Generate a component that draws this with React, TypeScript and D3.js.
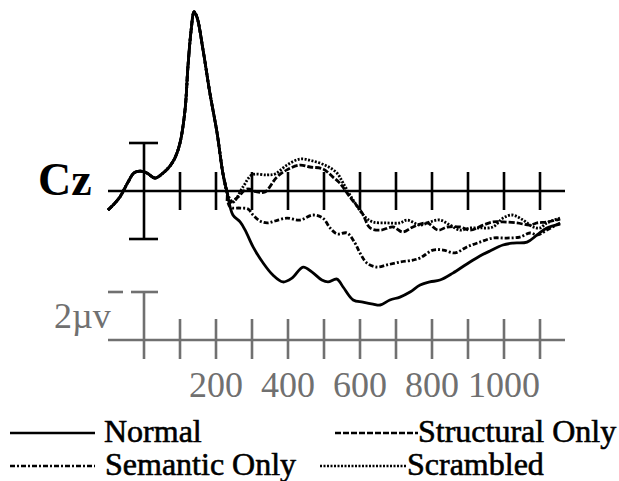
import { useEffect, useRef } from 'react';
import * as d3 from 'd3';

// [ms, µV] samples
const common: [number, number][] = [
  [-100, -0.79], [-83, -0.54], [-67, -0.25], [-44, 0.38], [-28, 0.75], [-11, 0.83],
  [8, 0.75], [31, 0.54], [53, 0.75], [72, 1.04], [86, 1.38], [100, 2.0], [114, 3.38],
  [122, 5.17], [131, 6.71], [139, 7.46], [147, 7.25], [164, 5.88], [183, 4.08],
  [203, 2.42], [219, 0.75], [231, -0.08],
];

const normalTail: [number, number][] = [
  [247, -1.0], [267, -1.29], [281, -1.63], [303, -2.33], [331, -3.0], [358, -3.5],
  [386, -3.79], [411, -3.63], [442, -3.17], [467, -3.38], [494, -3.71], [511, -3.79],
  [536, -3.67], [553, -4.0], [581, -4.54], [608, -4.63], [636, -4.71], [656, -4.75],
  [683, -4.54], [711, -4.42], [739, -4.21], [767, -3.92], [794, -3.79], [822, -3.71],
  [858, -3.42], [897, -3.04], [933, -2.71], [961, -2.5], [997, -2.25], [1025, -2.17],
  [1064, -2.13], [1092, -1.83], [1119, -1.54], [1156, -1.38],
];

const structuralTail: [number, number][] = [
  [233, -0.5], [258, -0.29], [286, 0.08], [314, -0.04], [336, -0.04], [369, 0.58],
  [397, 0.88], [433, 1.08], [461, 1.0], [497, 0.92], [525, 0.58], [544, 0.33],
  [572, -0.25], [606, -0.92], [628, -1.54], [656, -1.63], [692, -1.5], [719, -1.71],
  [747, -1.5], [786, -1.33], [817, -1.63], [842, -1.5], [878, -1.5], [906, -1.63],
  [942, -1.42], [969, -1.29], [997, -1.29], [1036, -1.33], [1072, -1.42], [1092, -1.33],
  [1119, -1.29], [1156, -1.17],
];

const semanticTail: [number, number][] = [
  [239, -0.67], [267, -0.71], [289, -0.75], [303, -1.0], [322, -1.25], [342, -1.33],
  [364, -1.25], [397, -1.13], [433, -1.21], [469, -1.0], [497, -1.13], [517, -1.54],
  [536, -1.79], [564, -1.75], [586, -2.17], [600, -2.58], [619, -3.0], [647, -3.17],
  [675, -3.08], [711, -2.96], [747, -2.88], [767, -2.79], [803, -2.46], [831, -2.46],
  [864, -2.58], [897, -2.33], [933, -2.13], [969, -1.96], [1008, -1.96], [1044, -1.92],
  [1072, -1.75], [1094, -1.83], [1119, -1.63], [1156, -1.33],
];

const scrambledTail: [number, number][] = [
  [247, -0.46], [275, 0.17], [300, 0.67], [342, 0.67], [364, 0.71], [397, 1.08],
  [433, 1.33], [469, 1.25], [508, 1.04], [536, 0.75], [553, 0.33], [581, -0.38],
  [614, -1.08], [636, -1.29], [675, -1.33], [711, -1.33], [731, -1.21], [767, -1.42],
  [794, -1.29], [822, -1.21], [850, -1.42], [878, -1.63], [906, -1.54], [933, -1.54],
  [969, -1.5], [997, -1.13], [1022, -1.0], [1053, -1.21], [1081, -1.5], [1100, -1.54],
  [1119, -1.33], [1156, -1.13],
];

const tickTimes = [100, 200, 300, 400, 500, 600, 700, 800, 900, 1000, 1100];
const tickLabels = [200, 400, 600, 800, 1000];

const series = [
  { name: 'Normal', tail: normalTail, dash: null },
  { name: 'Structural Only', tail: structuralTail, dash: '6,2' },
  { name: 'Semantic Only', tail: semanticTail, dash: '5,2,2,2' },
  { name: 'Scrambled', tail: scrambledTail, dash: '2,1.5' },
];

const GRAY = '#707070';

export default function App() {
  const svgRef = useRef<SVGSVGElement>(null);

  useEffect(() => {
    if (!svgRef.current) return;
    const svg = d3.select(svgRef.current);
    svg.selectAll('*').remove();

    const x = d3.scaleLinear().domain([0, 1000]).range([144, 504]);
    // µV scale, baseline of the top axis at 191
    const y = d3.scaleLinear().domain([0, 2]).range([191, 143]);
    const y0 = 340; // baseline of lower (gray) scale
    const xStart = x(-100);
    const xEnd = 565;
    const serif = '"Liberation Serif", "Times New Roman", serif';

    // top axis
    const top = svg.append('g').attr('stroke', '#000').attr('stroke-width', 2.6);
    top.append('line').attr('x1', xStart).attr('x2', xEnd).attr('y1', y(0)).attr('y2', y(0));
    top.selectAll('.t').data(tickTimes).enter().append('line')
      .attr('x1', d => x(d)).attr('x2', d => x(d))
      .attr('y1', y(0) - 19).attr('y2', y(0) + 19);
    // ±2µV bar at 0 ms
    top.append('line').attr('x1', x(0)).attr('x2', x(0)).attr('y1', y(2)).attr('y2', y(-2));
    [2, -2].forEach(v => {
      top.append('line').attr('x1', x(0) - 15).attr('x2', x(0) + 14)
        .attr('y1', y(v)).attr('y2', y(v));
    });

    svg.append('text')
      .attr('x', 38).attr('y', 195)
      .attr('font-family', serif)
      .attr('font-weight', 'bold').attr('font-size', 46)
      .text('Cz');

    // lower gray scale
    const low = svg.append('g').attr('stroke', GRAY).attr('stroke-width', 2.6);
    low.append('line').attr('x1', xStart).attr('x2', xEnd).attr('y1', y0).attr('y2', y0);
    low.selectAll('.t').data(tickTimes).enter().append('line')
      .attr('x1', d => x(d)).attr('x2', d => x(d))
      .attr('y1', y0 - 21).attr('y2', y0 + 19);
    const twoUv = y(0) - y(2);
    low.append('line').attr('x1', x(0)).attr('x2', x(0)).attr('y1', y0 - twoUv).attr('y2', y0 + 19);
    low.append('line').attr('x1', x(0) - 13).attr('x2', x(0) + 14)
      .attr('y1', y0 - twoUv).attr('y2', y0 - twoUv);
    low.append('line').attr('x1', xStart).attr('x2', xStart + 15)
      .attr('y1', y0 - twoUv).attr('y2', y0 - twoUv);

    svg.append('text')
      .attr('x', 54).attr('y', 328)
      .attr('font-family', serif).attr('font-size', 36).attr('fill', GRAY)
      .text('2µv');

    svg.append('g').selectAll('text').data(tickLabels).enter().append('text')
      .attr('x', d => x(d)).attr('y', 397)
      .attr('text-anchor', 'middle')
      .attr('font-family', serif).attr('font-size', 36).attr('fill', GRAY)
      .text(d => d);

    // waveforms
    const line = d3.line<[number, number]>()
      .x(d => x(d[0]))
      .y(d => y(d[1]))
      .curve(d3.curveCatmullRom.alpha(0.5));

    series.forEach(s => {
      svg.append('path')
        .attr('d', line([...common, ...s.tail]))
        .attr('fill', 'none')
        .attr('stroke', '#000')
        .attr('stroke-width', 2.8)
        .attr('stroke-dasharray', s.dash ?? null)
        .attr('stroke-linejoin', 'round');
    });

    // legend
    const legendPos = [
      { lx: 10, lw: 85, tx: 104, y: 433 },
      { lx: 335, lw: 83, tx: 418, y: 433 },
      { lx: 10, lw: 85, tx: 105, y: 466 },
      { lx: 320, lw: 87, tx: 407, y: 466 },
    ];
    series.forEach((s, i) => {
      const p = legendPos[i];
      svg.append('line')
        .attr('x1', p.lx).attr('x2', p.lx + p.lw)
        .attr('y1', p.y).attr('y2', p.y)
        .attr('stroke', '#000').attr('stroke-width', 2.6)
        .attr('stroke-dasharray', s.dash ?? null);
      svg.append('text')
        .attr('x', p.tx).attr('y', p.y + 9)
        .attr('font-family', serif).attr('font-size', 32)
        .attr('stroke', '#000').attr('stroke-width', 0.6)
        .text(s.name);
    });
  }, []);

  return (
    <svg
      ref={svgRef}
      width={619}
      height={481}
      style={{ position: 'absolute', left: 0, top: 0, background: '#fff' }}
    />
  );
}
